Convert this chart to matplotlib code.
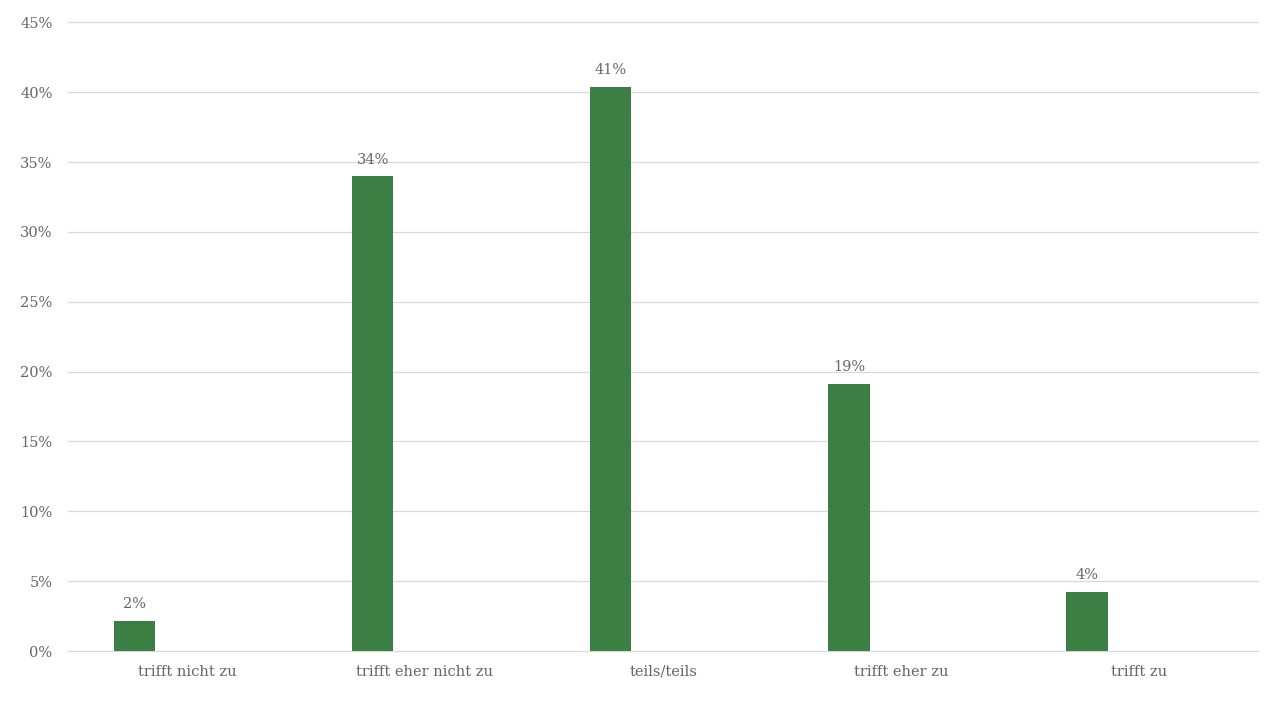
import numpy as np
import matplotlib.pyplot as plt
from matplotlib.ticker import FuncFormatter

# categories and shares
categories = ["trifft nicht zu", "trifft eher nicht zu", "teils/teils", "trifft eher zu", "trifft zu"]
shares = [2.15, 33.98, 40.4, 19.1, 4.22]
share_labels = ["2%", "34%", "41%", "19%", "4%"]

txt_col = "#666666"
bar_col = "#3B7F45"

fig = plt.figure(figsize=(12.8, 7.2), dpi=100)
ax = fig.add_axes([0.053, 0.0958, 0.93, 0.8732])

x = np.arange(len(categories))
bars = ax.bar(x - 0.219, shares, width=0.173, color=bar_col, zorder=3)

for b, lab in zip(bars, share_labels):
    ax.text(b.get_x() + b.get_width() / 2, b.get_height() + 0.7, lab,
            ha="center", va="bottom", fontsize=10.5, color=txt_col, family="DejaVu Serif")

ax.set_xlim(-0.5, len(categories) - 0.5)
ax.set_ylim(0, 45)
ax.set_yticks(np.arange(0, 46, 5))
ax.yaxis.set_major_formatter(FuncFormatter(lambda v, p: f"{v:.0f}%"))
ax.set_xticks(x)
ax.set_xticklabels(categories)
for lab in ax.get_xticklabels() + ax.get_yticklabels():
    lab.set_family("DejaVu Serif")
    lab.set_color(txt_col)
    lab.set_fontsize(10.5)

ax.grid(axis="y", color="#D9D9D9", linewidth=0.9, zorder=0)
for gl in ax.get_ygridlines():
    gl.set_clip_on(False)
for s in ax.spines.values():
    s.set_visible(False)
ax.tick_params(axis="both", length=0)
ax.tick_params(axis="x", pad=10)
ax.tick_params(axis="y", pad=11)

fig.savefig("out.png", dpi=100)
